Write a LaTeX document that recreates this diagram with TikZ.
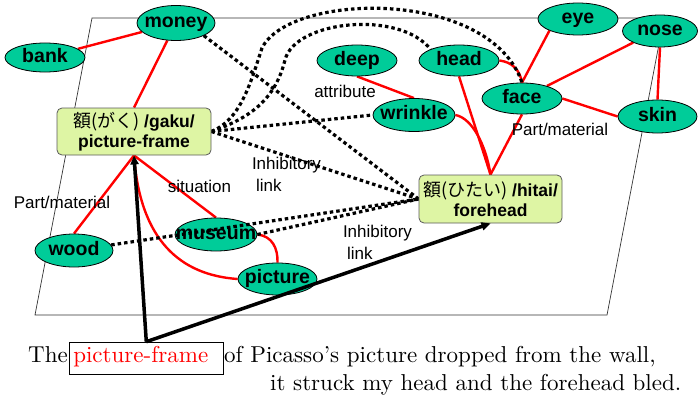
\documentclass[tikz,border=0pt]{standalone}
\usepackage{fontspec}
\newfontfamily\sansfam{Liberation Sans}
\newfontfamily\jpfam{Noto Sans CJK JP}
\newfontfamily\capfont{lmroman10-regular.otf}
\usetikzlibrary{shapes.geometric,arrows.meta,calc}
\definecolor{conceptfill}{RGB}{0,204,153}
\definecolor{wordfill}{RGB}{222,245,164}
\definecolor{wordedge}{RGB}{90,90,90}
\pgfdeclarelayer{background}
\pgfsetlayers{background,main}

\begin{document}
\begin{tikzpicture}[x=1pt,y=-1pt,
  concept/.style={ellipse, draw=black, line width=0.8pt, fill=conceptfill,
    minimum width=80pt, minimum height=32pt, inner xsep=-30pt, inner ysep=-12pt,
    font=\sansfam\bfseries\fontsize{19.5}{20}\selectfont, text height=13.5pt, text depth=4pt},
  word/.style={draw=wordedge, line width=0.8pt, fill=wordfill, rounded corners=5pt,
    inner sep=1pt, align=center, font=\sansfam\bfseries\fontsize{17.5}{20.5}\selectfont},
  rel/.style={red, line width=2.4pt},
  inhib/.style={black, line width=3.2pt, dash pattern=on 3.5pt off 3pt},
  cue/.style={black, line width=3.5pt, -{Triangle[length=9pt,width=8pt]}},
  note/.style={font=\sansfam\fontsize{17}{22}\selectfont, inner sep=0pt, align=left},
  plane/.style={draw=black!80, line width=0.7pt},
  caption/.style={anchor=base west, inner sep=0pt, font=\capfont\fontsize{23}{28}\selectfont}
]
\useasboundingbox (0,0) rectangle (698,396);

% concept nodes
\node[concept, minimum height=35pt, minimum width=78pt] (money) at (176,23) {money};
\node[concept, minimum height=29pt] (bank) at (45,57.5) {bank};
\node[concept, minimum height=31pt] (deep) at (357,60.5) {deep};
\node[concept, minimum height=31pt] (head) at (459,60.5) {head};
\node[concept] (eye) at (578,19) {eye};
\node[concept, minimum width=75pt] (nose) at (660,31) {nose};
\node[concept, minimum height=31pt] (face) at (522,98.5) {face};
\node[concept, minimum width=79pt, minimum height=33pt] (skin) at (657.5,116.5) {skin};
\node[concept, minimum width=82pt, minimum height=33pt] (wrinkle) at (414,115) {wrinkle};
\node[concept, minimum width=78pt, minimum height=33pt] (wood) at (74,250.5) {wood};
\node[concept, minimum width=82pt, minimum height=33pt] (museum) at (216,234.5) {museum};
\node[concept, minimum width=79pt] (picture) at (277.5,279) {picture};

% word nodes
\node[word, minimum width=154pt, minimum height=47pt] (gaku) at (134,131.5)
  {{\jpfam\mdseries\fontsize{18}{20}\selectfont 額(がく)} /gaku/\\picture-frame};
\node[word, minimum width=143pt, minimum height=48pt] (hitai) at (490.5,199)
  {{\jpfam\mdseries\fontsize{18}{20}\selectfont 額(ひたい)} /hitai/\\forehead};

% relation labels
\node[note] (attr) at (345,91) {attribute};
\node[note] (pmface) at (560,129) {Part/material};
\node[note] (pmwood) at (62,202) {Part/material};
\node[note] (sit) at (199.5,186) {situation};
\node[note] (inhA) at (286.5,174) {Inhibitory\\\hspace*{4pt}link};
\node[note] (inhB) at (377.5,242) {Inhibitory\\\hspace*{4pt}link};

% sentence
\node[caption] (the) at (28,362) {The};
\node[caption, draw=black, line width=0.6pt, text=red, inner xsep=4pt, inner ysep=4pt,
  text height=16pt, text depth=8pt, text width=146pt] (pf) at (69,362) {picture-frame};
\node[caption] (rest) at (224,362) {of Picasso’s picture dropped from the wall,};
\node[caption] (second) at (270,390) {it struck my head and the forehead bled.};

\begin{pgfonlayer}{background}
  % the plane
  \draw[plane] (92,18) -- (664,18) -- (607,315) -- (35,315) -- cycle;
  % semantic relations
  \draw[rel] (bank) -- (money);
  \draw[rel] (money) -- (gaku.north);
  \draw[rel] (gaku.south) -- (wood.north);
  \draw[rel] (gaku.south) -- (museum.north);
  \draw[rel] (gaku.south) .. controls (140,240) and (180,275) .. (picture.west);
  \draw[rel] (museum.east) .. controls (272,236) and (278,248) .. (picture.north);
  \draw[rel] (deep.south) -- (wrinkle.north);
  \draw[rel] (head.south) -- (hitai.north);
  \draw[rel] (wrinkle.east) .. controls (472,118) and (486,145) .. (hitai.north);
  \draw[rel] (head.east) .. controls (512,62) and (520,70) .. (face.north);
  \draw[rel] (face.south) -- (hitai.north);
  \draw[rel] (face.north) -- (eye.south west);
  \draw[rel] (face) -- (nose.south west);
  \draw[rel] (face.east) -- (skin.west);
  \draw[rel] (nose.south) -- (skin.north);
  % inhibitory links
  \draw[inhib] (money.south east) -- (hitai.west);
  \draw[inhib] (gaku.east) -- (wrinkle.west);
  \draw[inhib] (gaku.east) -- (hitai.west);
  \draw[inhib] (gaku.east) .. controls (240,120) and (250,85) .. (262,48)
    .. controls (290,-8) and (490,-12) .. (face.north);
  \draw[inhib] (gaku.east) .. controls (250,118) and (275,100) .. (285,60)
    .. controls (295,20) and (400,10) .. (head.north west);
  \draw[inhib] (museum.east) -- (hitai.west);
\end{pgfonlayer}

\draw[inhib] (wood) -- (hitai.west);

% the word in the sentence activates both readings
\draw[cue] (pf.north) -- (gaku.south);
\draw[cue] (pf.north) -- (hitai.south);
\end{tikzpicture}
\end{document}
